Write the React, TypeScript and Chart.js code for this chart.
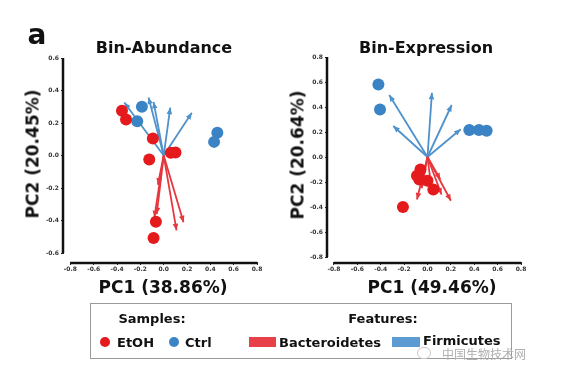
import React, { useEffect, useRef } from 'react';
import { Chart, registerables } from 'chart.js';

Chart.register(...registerables);

// ---- tick values ----
const xTicks = [-0.8, -0.6, -0.4, -0.2, 0, 0.2, 0.4, 0.6, 0.8];
const abundYTicks = [-0.6, -0.4, -0.2, 0, 0.2, 0.4, 0.6];
const exprYTicks = [-0.8, -0.6, -0.4, -0.2, 0, 0.2, 0.4, 0.6, 0.8];

// ---- Bin-Abundance ----
const abundEtohX = [-0.358, -0.323, -0.093, -0.124, 0.061, 0.101, -0.067, -0.087];
const abundEtohY = [0.275, 0.222, 0.105, -0.025, 0.017, 0.018, -0.408, -0.507];
const abundCtrlX = [-0.187, -0.227, 0.46, 0.432];
const abundCtrlY = [0.3, 0.211, 0.14, 0.084];
const abundBactX = [-0.08, -0.06, -0.05, 0.11, 0.17];
const abundBactY = [-0.38, -0.36, -0.18, -0.46, -0.41];
const abundFirmX = [-0.338, -0.13, -0.087, 0.056, 0.241];
const abundFirmY = [0.326, 0.357, 0.33, 0.295, 0.263];

// ---- Bin-Expression ----
const exprEtohX = [-0.06, -0.09, -0.07, 0.0, 0.05, -0.21];
const exprEtohY = [-0.1, -0.15, -0.18, -0.19, -0.26, -0.4];
const exprCtrlX = [-0.42, -0.406, 0.358, 0.44, 0.506];
const exprCtrlY = [0.58, 0.38, 0.216, 0.216, 0.21];
const exprBactX = [-0.09, -0.05, 0.03, 0.11, 0.12, 0.2];
const exprBactY = [-0.34, -0.25, -0.22, -0.18, -0.3, -0.35];
const exprFirmX = [-0.327, -0.293, 0.038, 0.207, 0.284];
const exprFirmY = [0.496, 0.248, 0.514, 0.416, 0.222];

const ETOH = '#e41a1c';
const CTRL = '#3a83c4';
const BACT = '#e6373e';
const FIRM = '#4f91cb';
const FONT = "'DejaVu Sans', Verdana, sans-serif";

const toPts = (xs: number[], ys: number[]) => xs.map((x, i) => ({ x, y: ys[i] }));

const arrowDatasets = (xs: number[], ys: number[], color: string) =>
  xs.map((x, i) => ({
    type: 'scatter' as const,
    isArrow: true,
    data: [{ x: 0, y: 0 }, { x, y: ys[i] }],
    showLine: true,
    borderColor: color,
    backgroundColor: color,
    borderWidth: 1.8,
    pointRadius: 0,
    order: 2,
  }));

const arrowHeads = {
  id: 'arrowHeads',
  afterDatasetDraw(chart: any, args: any) {
    const ds = chart.data.datasets[args.index];
    if (!ds.isArrow) return;
    const pts = args.meta.data;
    const a = pts[0];
    const b = pts[1];
    const ang = Math.atan2(b.y - a.y, b.x - a.x);
    const L = 6.5;
    const W = 2.8;
    const c = Math.cos(ang);
    const s = Math.sin(ang);
    const ctx = chart.ctx;
    ctx.save();
    ctx.fillStyle = ds.borderColor;
    ctx.beginPath();
    ctx.moveTo(b.x, b.y);
    ctx.lineTo(b.x - L * c + W * s, b.y - L * s - W * c);
    ctx.lineTo(b.x - L * c - W * s, b.y - L * s + W * c);
    ctx.closePath();
    ctx.fill();
    ctx.restore();
  },
};

const axisLines = {
  id: 'axisLines',
  afterDraw(chart: any) {
    const { ctx, chartArea, scales } = chart;
    const yt: number[] = chart.options.plugins.axisLines.yTicks;
    ctx.save();
    ctx.strokeStyle = '#111';
    ctx.lineWidth = 2.5;
    ctx.beginPath();
    ctx.moveTo(chartArea.left - 1, scales.y.getPixelForValue(yt[yt.length - 1]));
    ctx.lineTo(chartArea.left - 1, scales.y.getPixelForValue(yt[0]));
    ctx.moveTo(scales.x.getPixelForValue(xTicks[0]), chartArea.bottom + 1);
    ctx.lineTo(scales.x.getPixelForValue(xTicks[xTicks.length - 1]), chartArea.bottom + 1);
    ctx.stroke();
    ctx.restore();
  },
};

const tickFont = { size: 6, weight: 'bold' as const, family: FONT };

function makeConfig(p: {
  etoh: { x: number; y: number }[];
  ctrl: { x: number; y: number }[];
  bactX: number[];
  bactY: number[];
  firmX: number[];
  firmY: number[];
  xMin: number;
  yMin: number;
  yMax: number;
  yTicks: number[];
  padding: { left: number; right: number; top: number; bottom: number };
}) {
  return {
    type: 'scatter' as const,
    data: {
      datasets: [
        ...arrowDatasets(p.bactX, p.bactY, BACT),
        ...arrowDatasets(p.firmX, p.firmY, FIRM),
        { label: 'EtOH', data: p.etoh, backgroundColor: ETOH, borderWidth: 0, pointRadius: 6, order: 1 },
        { label: 'Ctrl', data: p.ctrl, backgroundColor: CTRL, borderWidth: 0, pointRadius: 6, order: 1 },
      ],
    },
    options: {
      animation: false,
      responsive: false,
      devicePixelRatio: 1,
      layout: { padding: p.padding },
      plugins: {
        legend: { display: false },
        tooltip: { enabled: false },
        axisLines: { yTicks: p.yTicks },
      },
      scales: {
        x: {
          type: 'linear',
          min: p.xMin,
          max: 0.8,
          afterBuildTicks: (s: any) => {
            s.ticks = xTicks.map((v) => ({ value: v }));
          },
          afterFit: (s: any) => {
            s.height = 30;
          },
          border: { display: false },
          grid: { drawOnChartArea: false, drawTicks: true, tickLength: 3, color: '#222', lineWidth: 1 },
          ticks: {
            font: tickFont,
            color: '#333',
            padding: 1,
            maxRotation: 0,
            autoSkip: false,
            callback: (v: any) => Number(v).toFixed(1),
          },
        },
        y: {
          type: 'linear',
          min: p.yMin,
          max: p.yMax,
          afterBuildTicks: (s: any) => {
            s.ticks = p.yTicks.map((v) => ({ value: v }));
          },
          afterFit: (s: any) => {
            s.width = 40;
          },
          border: { display: false },
          grid: { drawOnChartArea: false, drawTicks: true, tickLength: 3, color: '#222', lineWidth: 1 },
          ticks: {
            font: tickFont,
            color: '#333',
            padding: 2,
            autoSkip: false,
            callback: (v: any) => Number(v).toFixed(1),
          },
        },
      },
    },
    plugins: [arrowHeads, axisLines],
  };
}

const abs = (extra: React.CSSProperties): React.CSSProperties => ({
  position: 'absolute',
  whiteSpace: 'nowrap',
  lineHeight: 1,
  fontFamily: FONT,
  fontWeight: 'bold',
  color: '#111',
  ...extra,
});

const centered = (x: number, y: number, size: number, rot = 0): React.CSSProperties =>
  abs({
    left: x,
    top: y,
    fontSize: size,
    transform: `translate(-50%, -50%)${rot ? ` rotate(${rot}deg)` : ''}`,
  });

export default function App() {
  const leftRef = useRef<HTMLCanvasElement>(null);
  const rightRef = useRef<HTMLCanvasElement>(null);

  useEffect(() => {
    const c1 = new Chart(
      leftRef.current as HTMLCanvasElement,
      makeConfig({
        etoh: toPts(abundEtohX, abundEtohY),
        ctrl: toPts(abundCtrlX, abundCtrlY),
        bactX: abundBactX,
        bactY: abundBactY,
        firmX: abundFirmX,
        firmY: abundFirmY,
        xMin: -0.855,
        yMin: -0.655,
        yMax: 0.6,
        yTicks: abundYTicks,
        padding: { left: 24, right: 33, top: 58, bottom: 8 },
      }) as any
    );
    const c2 = new Chart(
      rightRef.current as HTMLCanvasElement,
      makeConfig({
        etoh: toPts(exprEtohX, exprEtohY),
        ctrl: toPts(exprCtrlX, exprCtrlY),
        bactX: exprBactX,
        bactY: exprBactY,
        firmX: exprFirmX,
        firmY: exprFirmY,
        xMin: -0.851,
        yMin: -0.84,
        yMax: 0.8,
        yTicks: exprYTicks,
        padding: { left: 18, right: 39, top: 57, bottom: 8 },
      }) as any
    );
    return () => {
      c1.destroy();
      c2.destroy();
    };
  }, []);

  return (
    <div
      style={{
        position: 'absolute',
        left: 0,
        top: 0,
        width: 572,
        height: 388,
        background: '#fff',
        overflow: 'hidden',
      }}
    >
      <canvas ref={leftRef} width={290} height={300} style={{ position: 'absolute', left: 0, top: 0 }} />
      <canvas ref={rightRef} width={290} height={300} style={{ position: 'absolute', left: 270, top: 0 }} />

      <div style={centered(37, 35, 28)}>a</div>
      <div style={centered(164, 48, 16)}>Bin-Abundance</div>
      <div style={centered(426, 48, 16)}>Bin-Expression</div>

      <div style={centered(163, 287, 17)}>PC1 (38.86%)</div>
      <div style={centered(432, 287, 17)}>PC1 (49.46%)</div>
      <div style={centered(33, 154, 17, -90)}>PC2 (20.45%)</div>
      <div style={centered(298, 155, 17, -90)}>PC2 (20.64%)</div>

      {/* legend box */}
      <div
        style={{
          position: 'absolute',
          left: 90,
          top: 303,
          width: 422,
          height: 56,
          border: '1px solid #9a9a9a',
          boxSizing: 'border-box',
        }}
      />
      <div style={centered(152, 318, 13)}>Samples:</div>
      <div style={centered(383, 318, 13)}>Features:</div>
      <div
        style={{ position: 'absolute', left: 100, top: 337, width: 10, height: 10, borderRadius: 5, background: ETOH }}
      />
      <div style={abs({ left: 117, top: 335.5, fontSize: 13 })}>EtOH</div>
      <div
        style={{ position: 'absolute', left: 169, top: 337, width: 10, height: 10, borderRadius: 5, background: CTRL }}
      />
      <div style={abs({ left: 185, top: 335.5, fontSize: 13 })}>Ctrl</div>
      <div style={{ position: 'absolute', left: 249, top: 337, width: 27, height: 10, background: '#e84049' }} />
      <div style={abs({ left: 279, top: 335.5, fontSize: 13 })}>Bacteroidetes</div>
      <div style={{ position: 'absolute', left: 392, top: 337, width: 28, height: 10, background: '#5d9bd3' }} />
      <div style={abs({ left: 423, top: 333.5, fontSize: 13 })}>Firmicutes</div>

      {/* watermark */}
      <div
        style={{
          position: 'absolute',
          left: 417,
          top: 347,
          width: 14,
          height: 12,
          borderRadius: 7,
          border: '1px solid #c8c8c8',
          boxSizing: 'border-box',
        }}
      />
      <div
        style={abs({
          left: 442,
          top: 348,
          fontSize: 12,
          fontWeight: 'normal',
          color: '#b0b0b0',
          fontFamily: "'Noto Sans CJK SC', sans-serif",
        })}
      >
        中国生物技术网
      </div>
    </div>
  );
}
